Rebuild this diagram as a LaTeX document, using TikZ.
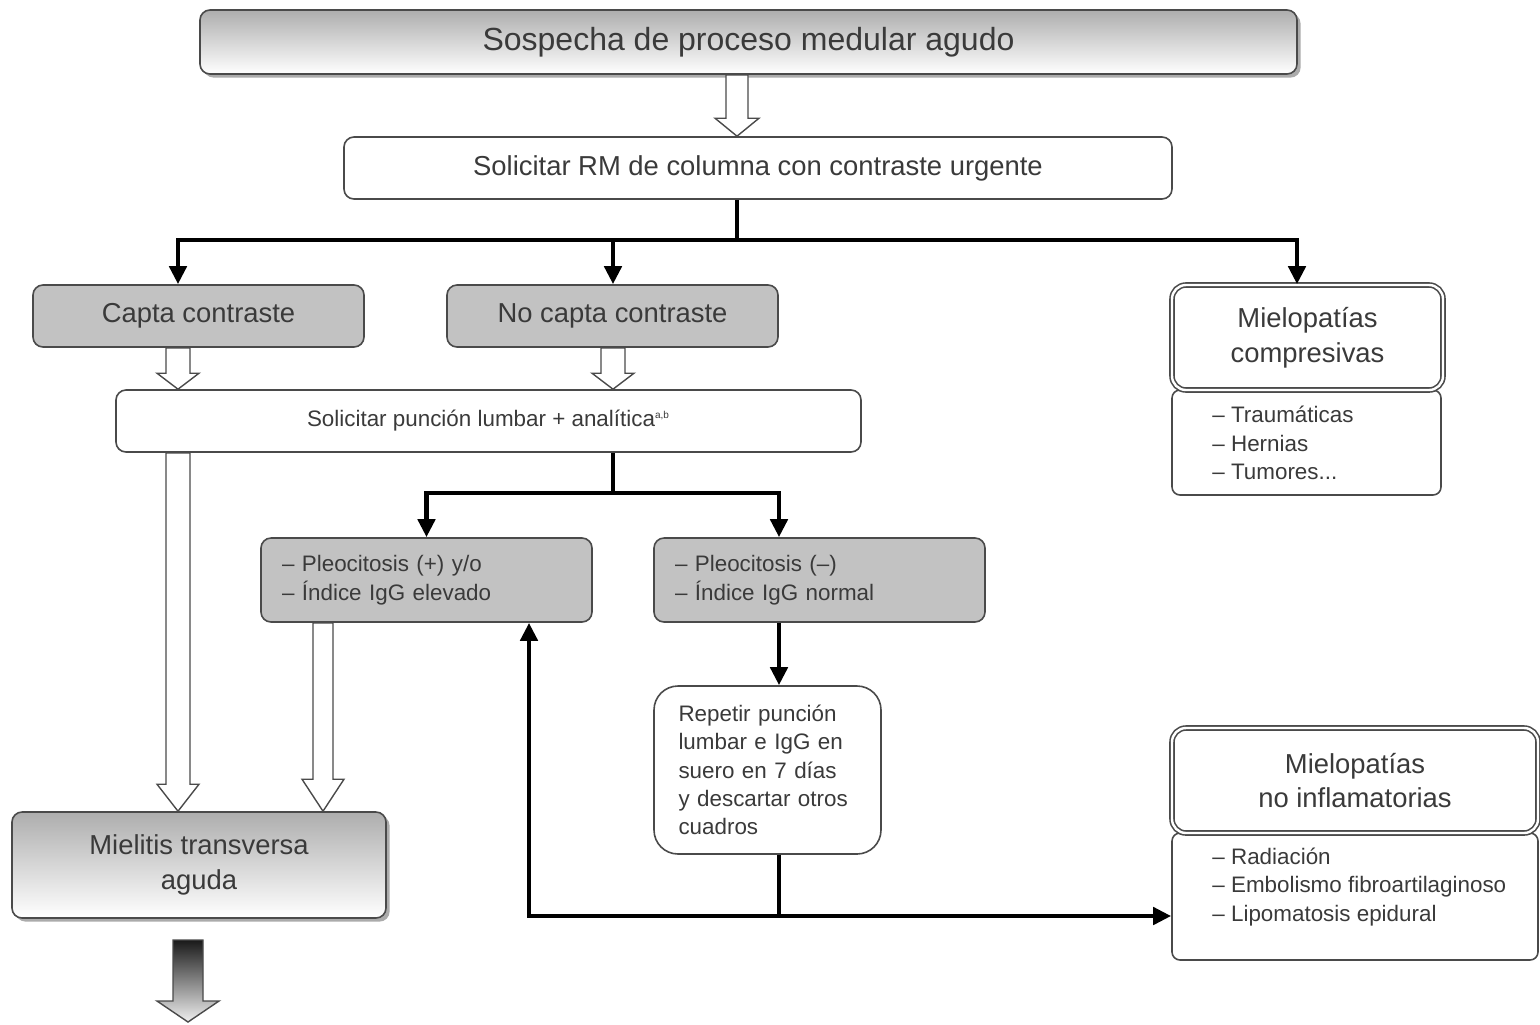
\documentclass[tikz,border=0pt]{standalone}
\usepackage{fontspec}
\setmainfont{Liberation Sans}
\usetikzlibrary{calc,shadows,arrows.meta}
\definecolor{txt}{HTML}{3A3A3A}
\definecolor{edge}{HTML}{4A4A4A}
\definecolor{boxgray}{HTML}{C2C2C2}
\newcommand\hollowarrow[6]{%
  \draw[#1] ($(#2)+(-#4,0pt)$) -- ($(#3)+(-#4,#6)$) -- ($(#3)+(-#5,#6)$) -- (#3)
    -- ($(#3)+(#5,#6)$) -- ($(#3)+(#4,#6)$) -- ($(#2)+(#4,0pt)$) -- cycle;}
\tikzset{
  base/.style={draw=edge, line width=0.8pt, rounded corners=5pt, align=center, inner sep=0pt, text=txt},
  grad/.style={base, top color=black!32, bottom color=white,
    drop shadow={shadow xshift=1.8pt, shadow yshift=-1.8pt, fill=black!65}},
  whitebox/.style={base, fill=white},
  graybox/.style={base, fill=boxgray},
  big/.style={font=\fontsize{13.7}{17.25}\selectfont},
  small/.style={font=\fontsize{11.2}{14.2}\selectfont},
  listtext/.style={small, align=left, anchor=west, inner sep=0pt, text=txt},
  blk/.style={line width=2.4pt, draw=black},
  blkarrow/.style={blk, -{Triangle[width=8.5pt,length=9pt]}},
  hollow/.style={draw=edge, line width=0.7pt, fill=white, line join=miter},
  gradarrow/.style={draw=edge, line width=0.7pt, top color=black!90, bottom color=black!6, line join=miter},
}
\begin{document}
\begin{tikzpicture}[x=0.5pt, y=-0.5pt]
\fill[white] (0,0) rectangle (1540,1024);
\useasboundingbox (0,0) rectangle (1540,1024);

% column coordinates
\coordinate (xM) at (737,0);
\coordinate (xA) at (178,0);
\coordinate (xN) at (613,0);
\coordinate (xC) at (1297,0);
\coordinate (xR) at (779,0);
\coordinate (xP) at (323,0);
\coordinate (xU) at (529,0);
\coordinate (bus1) at (0,240);
\coordinate (bus2) at (0,493);
\coordinate (bus3) at (0,916);
\coordinate (g1) at (188,940);
\coordinate (g2) at (188,1022);

% nodes
\node[grad, minimum width=548.5pt, minimum height=32pt, font=\fontsize{16}{19}\selectfont]
  (title) at (748.5,42) {\raisebox{-1.5pt}{Sospecha de proceso medular agudo}};
\node[whitebox, big, minimum width=414pt, minimum height=31pt]
  (rm) at (758,168) {Solicitar RM de columna con contraste urgente};
\node[graybox, big, minimum width=165.5pt, minimum height=31pt]
  (capta) at (198.5,316) {Capta contraste};
\node[graybox, big, minimum width=165.5pt, minimum height=31pt]
  (nocapta) at (612.5,316) {No capta contraste};

\node[whitebox, rounded corners=4pt, minimum width=134.5pt, minimum height=52.5pt]
  (complist) at (1306.5,442.5) {};
\node[listtext] (complistT) at (1212,443) {– Traumáticas\\– Hernias\\– Tumores...};
\node[whitebox, double=white, double distance=1.2pt, rounded corners=7pt, big,
  minimum width=135.5pt, minimum height=52.5pt]
  (comp) at (1307.5,337.5) {Mielopatías\\compresivas};

\node[whitebox, small, minimum width=372.5pt, minimum height=31pt]
  (puncion) at (488.5,421) {Solicitar punción lumbar + analítica\textsuperscript{\fontsize{5}{5}\selectfont a,b}};

\node[graybox, small, minimum width=165.5pt, minimum height=42pt, text width=144.5pt, align=left]
  (pleop) at (426.5,580) {– Pleocitosis (+) y/o\\– Índice IgG elevado};
\node[graybox, small, minimum width=165.5pt, minimum height=42pt, text width=144.5pt, align=left]
  (pleon) at (819.5,580) {– Pleocitosis (–)\\– Índice IgG normal};

\node[whitebox, small, rounded corners=12pt, minimum width=113.5pt, minimum height=84pt,
  text width=89pt, align=left]
  (repetir) at (767.5,770) {Repetir punción\\lumbar e IgG en\\suero en 7 días\\y descartar otros\\cuadros};

\node[whitebox, rounded corners=4pt, minimum width=183pt, minimum height=63.5pt]
  (noinflist) at (1355,896.5) {};
\node[listtext] (noinflistT) at (1212,887) {– Radiación\\– Embolismo fibroartilaginoso\\– Lipomatosis epidural};
\node[whitebox, double=white, double distance=1.2pt, rounded corners=7pt, big,
  minimum width=183pt, minimum height=52.5pt]
  (noinf) at (1355,780.5) {Mielopatías\\no inflamatorias};

\node[grad, big, minimum width=187pt, minimum height=53pt]
  (mielitis) at (199,865) {Mielitis transversa\\aguda};

% hollow arrows
\hollowarrow{hollow}{title.south -| xM}{rm.north -| xM}{5.5pt}{11pt}{9pt}
\hollowarrow{hollow}{capta.south -| xA}{puncion.north -| xA}{6pt}{10.5pt}{8pt}
\hollowarrow{hollow}{nocapta.south -| xN}{puncion.north -| xN}{6pt}{10.5pt}{8pt}
\hollowarrow{hollow}{puncion.south -| xA}{mielitis.north -| xA}{6pt}{10.5pt}{13.5pt}
\hollowarrow{hollow}{pleop.south -| xP}{mielitis.north -| xP}{5pt}{10.5pt}{16pt}
\hollowarrow{gradarrow}{g1}{g2}{7.5pt}{15.5pt}{10.5pt}

% black connectors
\draw[blkarrow] (rm.south -| xM) -- (xM |- bus1) -| (capta.north -| xA);
\draw[blkarrow] (xM |- bus1) -| (nocapta.north -| xN);
\draw[blkarrow] (xM |- bus1) -| (comp.north -| xC);
\draw[blkarrow] (puncion.south -| xN) -- (xN |- bus2) -| (pleop.north);
\draw[blkarrow] (xN |- bus2) -| (pleon.north -| xR);
\draw[blkarrow] (pleon.south -| xR) -- (repetir.north -| xR);
\draw[blkarrow] (repetir.south -| xR) -- (xR |- bus3) -| (pleop.south -| xU);
\draw[blkarrow] (xR |- bus3) -- (noinflist.west |- bus3);
\end{tikzpicture}
\end{document}
